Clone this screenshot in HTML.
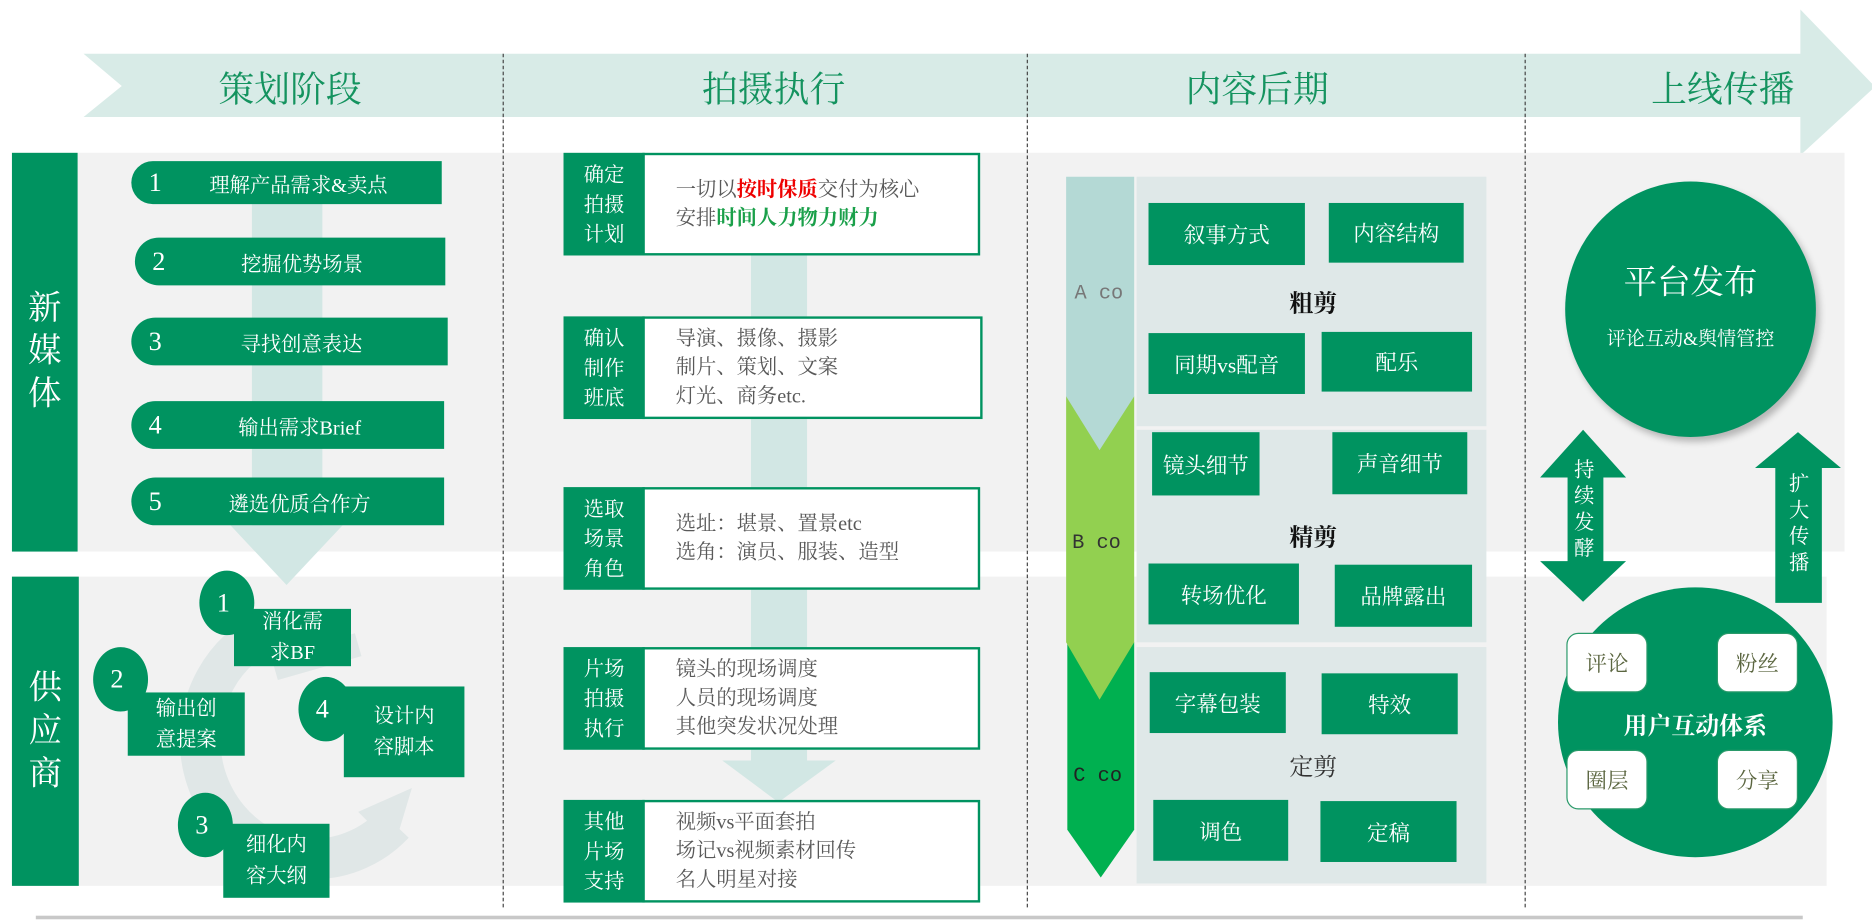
<!DOCTYPE html>
<html><head><meta charset="utf-8"><style>
*{margin:0;padding:0;box-sizing:border-box}
body{width:1872px;height:921px;overflow:hidden;background:#fff}
#c{position:absolute;left:0;top:0;width:1568px;height:772px;transform:scale(1.19388);transform-origin:0 0;font-family:"Liberation Serif","Noto Serif CJK SC",serif}
.a{position:absolute}
.g{background:#009360;color:#fff;display:flex;align-items:center;justify-content:center;text-align:center}
.t{font-size:30px;color:#14935f;position:absolute;top:50px;transform:translateX(-50%);white-space:nowrap}
.dash{position:absolute;top:45px;height:715px;border-left:1.5px dashed #444}
.pill{position:absolute;background:#009360;color:#fff;border-radius:22px 0 0 22px;height:40px;font-size:17px;display:flex;align-items:center}
.pill b{font-weight:normal;width:40px;text-align:center;font-size:22px}
.pill span{flex:1;text-align:center;padding-right:20px}
.num{position:absolute;background:#009360;color:#fff;border-radius:50%;width:46px;height:54px;font-size:22px;display:flex;align-items:center;justify-content:center;padding-right:6px}
.sb{position:absolute;background:#009360;color:#fff;font-size:17px;line-height:26px;display:flex;align-items:center;justify-content:center;text-align:center}
.lab{position:absolute;background:#009360;color:#fff;width:68px;font-size:17px;line-height:25px;display:flex;align-items:center;justify-content:center;text-align:center}
.wb{position:absolute;background:#fff;border:2px solid #009360;font-size:17px;line-height:24px;color:#595959;display:flex;flex-direction:column;justify-content:center;padding-left:26px}
.gb{position:absolute;background:#009360;color:#fff;font-size:18px;display:flex;align-items:center;justify-content:center}
.hd{position:absolute;font-size:20px;font-weight:bold;color:#111;transform:translateX(-50%)}
.wr{position:absolute;background:#fff;border:1.5px solid #2a9a6a;border-radius:10px;width:68px;height:50px;color:#5b6640;font-size:18px;display:flex;align-items:center;justify-content:center}
</style></head><body><div id="c">
<!-- banner -->
<svg class="a" style="left:0;top:0" width="1568" height="772">
<polygon points="70,45 1508,45 1508,8 1568,70 1568,75 1508,130 1508,98 70,98 102,72" fill="#d8ebe7"/>
</svg>
<div class="t" style="left:243px">策划阶段</div>
<div class="t" style="left:648px">拍摄执行</div>
<div class="t" style="left:1053px">内容后期</div>
<div class="t" style="left:1443px">上线传播</div>
<!-- gray panels -->
<div class="a" style="left:10px;top:128px;width:1535px;height:334px;background:#f2f2f2"></div>
<div class="a" style="left:10px;top:483px;width:1520px;height:259px;background:#f2f2f2"></div>
<div class="dash" style="left:421px"></div>
<div class="dash" style="left:860px"></div>
<div class="dash" style="left:1277px"></div>
<div class="a g" style="left:10px;top:128px;width:55px;height:334px;font-size:28px;line-height:36px">新<br>媒<br>体</div>
<div class="a g" style="left:10px;top:483px;width:56px;height:259px;font-size:28px;line-height:36px">供<br>应<br>商</div>
<!-- col1 -->
<div class="a" style="left:211px;top:170px;width:59px;height:275px;background:#d2e7e4"></div>
<svg class="a" style="left:0;top:0" width="600" height="772">
<polygon points="193,440 287,440 240,490" fill="#d2e7e4"/>
<path d="M205,540 A95,100 0 1 0 330,690" fill="none" stroke="#e0e7e7" stroke-width="34"/>
<polygon points="300,680 345,660 330,710" fill="#e0e7e7"/>
<path d="M230,560 L300,540" stroke="#e0e7e7" stroke-width="20"/>
</svg>
<div class="pill" style="left:110px;top:135px;width:260px;height:36px"><b>1</b><span>理解产品需求&amp;卖点</span></div>
<div class="pill" style="left:113px;top:199px;width:260px"><b>2</b><span>挖掘优势场景</span></div>
<div class="pill" style="left:110px;top:266px;width:265px"><b>3</b><span>寻找创意表达</span></div>
<div class="pill" style="left:110px;top:336px;width:262px"><b>4</b><span>输出需求Brief</span></div>
<div class="pill" style="left:110px;top:400px;width:262px"><b>5</b><span>遴选优质合作方</span></div>
<div class="sb" style="left:196px;top:510px;width:98px;height:48px">消化需<br>求BF</div>
<div class="num" style="left:167px;top:478px">1</div>
<div class="sb" style="left:107px;top:580px;width:98px;height:53px">输出创<br>意提案</div>
<div class="num" style="left:78px;top:542px">2</div>
<div class="sb" style="left:288px;top:575px;width:101px;height:76px">设计内<br>容脚本</div>
<div class="num" style="left:250px;top:567px">4</div>
<div class="sb" style="left:187px;top:690px;width:89px;height:62px">细化内<br>容大纲</div>
<div class="num" style="left:149px;top:664px">3</div>
<!-- col2 -->
<div class="a" style="left:629px;top:213px;width:47px;height:430px;background:#d2e7e4"></div>
<svg class="a" style="left:0;top:0" width="800" height="772"><polygon points="605,637 700,637 652,672" fill="#d2e7e4"/></svg>
<div class="wb" style="left:538px;top:128px;width:283px;height:86px;color:#595959"><div>一切以<b style="color:#e00;font-weight:bold">按时保质</b>交付为核心</div><div>安排<b style="color:#1aa04a">时间人力物力财力</b></div></div>
<div class="lab" style="left:472px;top:128px;height:86px">确定<br>拍摄<br>计划</div>
<div class="wb" style="left:538px;top:265px;width:285px;height:86px"><div>导演、摄像、摄影</div><div>制片、策划、文案</div><div>灯光、商务etc.</div></div>
<div class="lab" style="left:472px;top:265px;height:86px">确认<br>制作<br>班底</div>
<div class="wb" style="left:538px;top:408px;width:283px;height:86px"><div>选址：堪景、置景etc</div><div>选角：演员、服装、造型</div></div>
<div class="lab" style="left:472px;top:408px;height:86px">选取<br>场景<br>角色</div>
<div class="wb" style="left:538px;top:542px;width:283px;height:86px"><div>镜头的现场调度</div><div>人员的现场调度</div><div>其他突发状况处理</div></div>
<div class="lab" style="left:472px;top:542px;height:86px">片场<br>拍摄<br>执行</div>
<div class="wb" style="left:538px;top:670px;width:283px;height:86px"><div>视频vs平面套拍</div><div>场记vs视频素材回传</div><div>名人明星对接</div></div>
<div class="lab" style="left:472px;top:670px;height:86px">其他<br>片场<br>支持</div>
<!-- col3 -->
<div class="a" style="left:952px;top:148px;width:293px;height:209px;background:#dfe8e8"></div>
<div class="a" style="left:952px;top:360px;width:293px;height:178px;background:#dfe8e8"></div>
<div class="a" style="left:952px;top:542px;width:293px;height:198px;background:#dfe8e8"></div>
<svg class="a" style="left:0;top:0" width="1300" height="772">
<polygon points="894,538 950,538 950,695 922,735 894,695" fill="#00b050"/>
<polygon points="893,332 950,332 950,538 921,586 893,538" fill="#92d050"/>
<polygon points="893,148 950,148 950,332 921,377 893,332" fill="#b4d9d5"/>
</svg>
<div class="a" style="left:900px;top:237px;font-size:17px;color:#777;font-family:'Liberation Mono',monospace">A co</div>
<div class="a" style="left:898px;top:446px;font-size:17px;color:#333;font-family:'Liberation Mono',monospace">B co</div>
<div class="a" style="left:899px;top:641px;font-size:17px;color:#222;font-family:'Liberation Mono',monospace">C co</div>
<div class="gb" style="left:962px;top:170px;width:131px;height:52px">叙事方式</div>
<div class="gb" style="left:1113px;top:170px;width:113px;height:50px">内容结构</div>
<div class="hd" style="left:1100px;top:238px">粗剪</div>
<div class="gb" style="left:962px;top:279px;width:131px;height:51px">同期vs配音</div>
<div class="gb" style="left:1107px;top:278px;width:126px;height:50px">配乐</div>
<div class="gb" style="left:965px;top:362px;width:90px;height:53px">镜头细节</div>
<div class="gb" style="left:1116px;top:362px;width:113px;height:52px">声音细节</div>
<div class="hd" style="left:1100px;top:434px">精剪</div>
<div class="gb" style="left:962px;top:472px;width:126px;height:51px">转场优化</div>
<div class="gb" style="left:1118px;top:473px;width:115px;height:52px">品牌露出</div>
<div class="gb" style="left:963px;top:563px;width:114px;height:51px">字幕包装</div>
<div class="gb" style="left:1107px;top:564px;width:114px;height:51px">特效</div>
<div class="hd" style="left:1100px;top:626px;font-weight:normal;color:#333">定剪</div>
<div class="gb" style="left:966px;top:670px;width:113px;height:51px">调色</div>
<div class="gb" style="left:1106px;top:671px;width:114px;height:51px">定稿</div>
<!-- col4 -->
<div class="a g" style="left:1311px;top:152px;width:210px;height:214px;border-radius:50%;flex-direction:column;box-shadow:3px 4px 6px rgba(0,0,0,.25)"><div style="font-size:28px;margin-top:-10px">平台发布</div><div style="font-size:16px;margin-top:16px">评论互动&amp;舆情管控</div></div>
<svg class="a" style="left:0;top:0" width="1568" height="772">
<polygon points="1326,360 1362,400 1343,400 1343,470 1362,470 1326,504 1290,470 1313,470 1313,400 1290,400" fill="#009360"/>
<polygon points="1506,362 1542,392 1526,392 1526,505 1487,505 1487,392 1470,392" fill="#009360"/>
<ellipse cx="1420" cy="605" rx="115" ry="113" fill="#009360"/>
</svg>
<div class="a" style="left:1314px;top:383px;width:26px;font-size:17px;line-height:22px;color:#fff;text-align:center">持<br>续<br>发<br>酵</div>
<div class="a" style="left:1494px;top:395px;width:26px;font-size:17px;line-height:22px;color:#fff;text-align:center">扩<br>大<br>传<br>播</div>
<div class="wr" style="left:1312px;top:530px">评论</div>
<div class="wr" style="left:1438px;top:530px">粉丝</div>
<div class="wr" style="left:1312px;top:628px">圈层</div>
<div class="wr" style="left:1438px;top:628px">分享</div>
<div class="a" style="left:1420px;top:592px;transform:translateX(-50%);font-size:20px;font-weight:bold;color:#fff;white-space:nowrap">用户互动体系</div>
<div class="a" style="left:30px;top:767px;width:1480px;height:3px;background:#c8c8c8"></div>
</div></body></html>
